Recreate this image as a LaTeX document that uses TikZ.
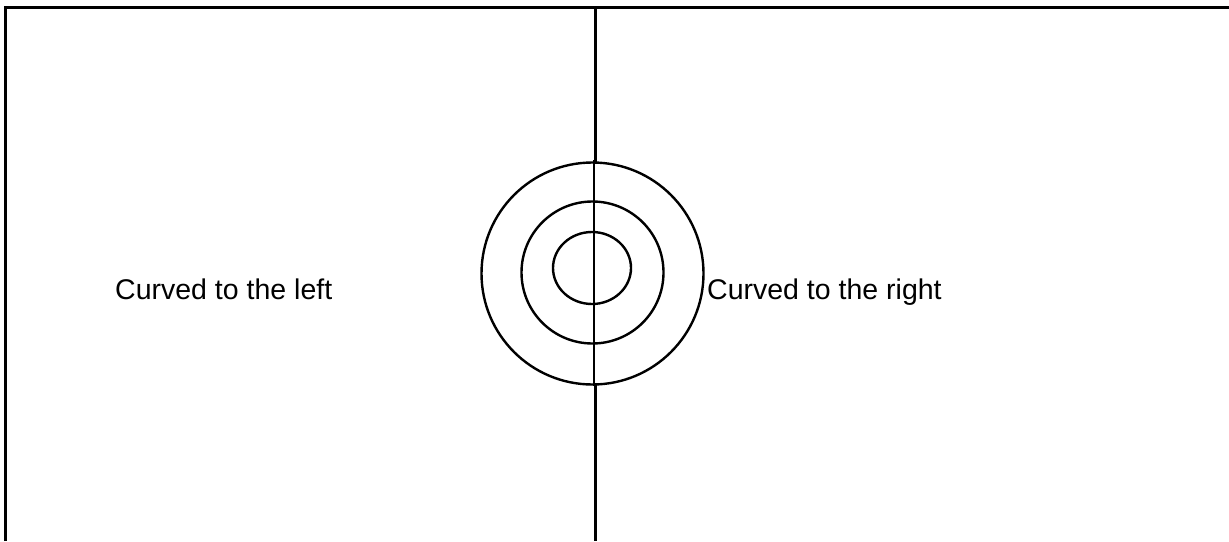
\documentclass[tikz,border=0pt]{standalone}
\usepackage{fontspec}
\setmainfont{Liberation Sans}
\begin{document}
\begin{tikzpicture}[x=1pt,y=-1pt,
  frame/.style={line width=3pt,line cap=butt},
  ring/.style={line width=2.4pt},
  lbl/.style={font=\fontsize{28.5}{34}\selectfont,anchor=base west,inner sep=0pt}]
\useasboundingbox (0,0) rectangle (1229,541);
% frame
\draw[frame] (5.5,541) -- (5.5,7) -- (1229,7);
% central vertical line
\coordinate (vt) at (595,7);
\coordinate (vm1) at (595,163);
\coordinate (vm2) at (595,384);
\coordinate (vb) at (595,541);
\draw[frame] (vt) -- (vm1);
\draw[ring] (594,160) -- (594,386);
\draw[frame] (vm2) -- (vb);
% rings
\draw[ring] (592.5,273.5) circle[radius=111];
\draw[ring] (592.5,272.5) circle[radius=71];
\draw[ring] (592,268) ellipse[x radius=39,y radius=36];
% labels
\node[lbl] (left) at (115,299) {Curved to the left};
\node[lbl] (right) at (707,299) {Curved to the right};
\end{tikzpicture}
\end{document}
